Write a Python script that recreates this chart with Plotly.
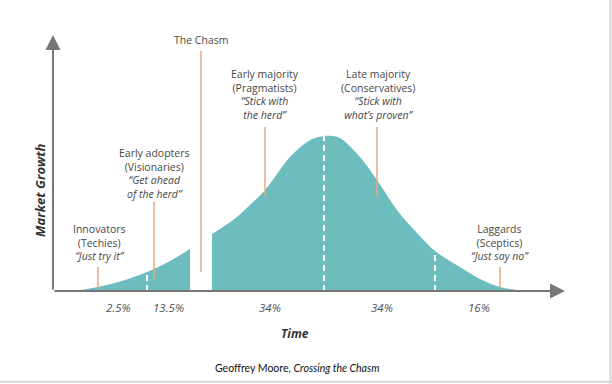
import plotly.graph_objects as go

# ---------------- data ----------------
# adoption curve (time units, growth units)
early_time = [22, 45, 69, 94, 117, 137]
early_growth = [0, 4, 10, 19, 30, 42]
main_time = [159, 180, 197, 212, 237, 254, 262, 271, 279, 287, 307, 324, 344, 364, 382, 407, 427, 447, 474]
main_growth = [57, 71, 86, 101, 134, 149, 153, 155, 155, 153, 134, 111, 81, 58, 40, 24, 12, 4, 0]

# segment boundaries (dashed white lines): time and curve height
boundary_time = [94, 271, 382]
boundary_growth = [19, 155, 40]

segment_titles = ["Innovators", "Early adopters", "The Chasm", "Early majority", "Late majority", "Laggards"]
segment_types = ["(Techies)", "(Visionaries)", "", "(Pragmatists)", "(Conservatives)", "(Sceptics)"]
segment_quotes = ["“Just try it”", "“Get ahead<br>of the herd”", "", "“Stick with<br>the herd”",
                  "“Stick with<br>what’s proven”", "“Just say no”"]

share_labels = ["2.5%", "13.5%", "34%", "34%", "16%"]

x_title = "Time"
y_title = "Market Growth"
caption = "Geoffrey Moore, <i>Crossing the Chasm</i>"

# ---------------- layout helpers ----------------
TEAL = "#6dbdbf"
TAN = "#e9a97e"
AXIS = "#777777"
TXT = "#474747"
FONT = "Open Sans"

# label placement (time, growth) and pointer line (time, top, bottom)
label_pos = [(46, 49), (101, 118), (148, 251), (212, 196.5), (325, 196.5), (447, 49)]
pointer = [(45, 24, 2), (101, 89, 12), (148, 240, 19), (212, 164, 94), (324, 164, 94), (447, 24, 4)]
share_x = [65, 115, 217, 329, 426]

fig = go.Figure()
fig.add_trace(go.Scatter(x=early_time, y=early_growth, mode="lines", fill="tozeroy",
                         line=dict(width=0, shape="spline", color=TEAL), fillcolor=TEAL,
                         hoverinfo="skip", showlegend=False))
fig.add_trace(go.Scatter(x=main_time, y=main_growth, mode="lines", fill="tozeroy",
                         line=dict(width=0, shape="spline", color=TEAL), fillcolor=TEAL,
                         hoverinfo="skip", showlegend=False))

shapes = []
for bt, bg in zip(boundary_time, boundary_growth):
    shapes.append(dict(type="line", x0=bt, x1=bt, y0=0, y1=bg, xref="x", yref="y",
                       line=dict(color="white", width=2, dash="6px,4px")))
for (px, top, bot) in pointer:
    shapes.append(dict(type="line", x0=px, x1=px, y0=bot, y1=top, xref="x", yref="y",
                       line=dict(color=TAN, width=1.5)))
# frame edges
shapes.append(dict(type="line", xref="paper", yref="paper", x0=0.9975, x1=0.9975, y0=0, y1=1,
                   line=dict(color="#d4d4d4", width=2)))
shapes.append(dict(type="line", xref="paper", yref="paper", x0=0, x1=1, y0=0.006, y1=0.006,
                   line=dict(color="#d4d4d4", width=2)))

annotations = []
# axes as arrows
annotations.append(dict(x=512, y=0, ax=0, ay=0, xref="x", yref="y", axref="x", ayref="y",
                        text="", showarrow=True, arrowhead=2, arrowsize=1.5, arrowwidth=2,
                        arrowcolor=AXIS, standoff=0, startstandoff=0))
annotations.append(dict(x=0, y=256, ax=0, ay=0, xref="x", yref="y", axref="x", ayref="y",
                        text="", showarrow=True, arrowhead=2, arrowsize=1.5, arrowwidth=2,
                        arrowcolor=AXIS, standoff=0, startstandoff=0))

for (lx, ly), t, ty, q in zip(label_pos, segment_titles, segment_types, segment_quotes):
    parts = [t]
    if ty:
        parts.append(ty)
    if q:
        parts.append("<i>" + q + "</i>")
    annotations.append(dict(x=lx, y=ly, xref="x", yref="y", text="<br>".join(parts),
                            showarrow=False, align="center", xanchor="center", yanchor="middle",
                            font=dict(family=FONT, size=10.5, color=TXT)))

for sx, s in zip(share_x, share_labels):
    annotations.append(dict(x=sx, y=-16, xref="x", yref="y", text="<i>" + s + "</i>",
                            showarrow=False, font=dict(family=FONT, size=11.5, color="#505050")))

annotations.append(dict(x=242, y=-42, xref="x", yref="y", text="<b><i>" + x_title + "</i></b>",
                        showarrow=False, font=dict(family=FONT, size=12, color="#333333")))
annotations.append(dict(x=-13, y=101, xref="x", yref="y", text="<b><i>" + y_title + "</i></b>",
                        textangle=-90, showarrow=False,
                        font=dict(family=FONT, size=13, color="#333333")))
annotations.append(dict(x=244, y=-77, xref="x", yref="y", text=caption, showarrow=False,
                        font=dict(family="Lato", size=10.5, color="#111111")))

fig.update_layout(
    width=612, height=384,
    margin=dict(l=0, r=0, t=0, b=0),
    paper_bgcolor="white", plot_bgcolor="white",
    xaxis=dict(range=[-53, 559], visible=False, fixedrange=True),
    yaxis=dict(range=[-93, 291], visible=False, fixedrange=True),
    shapes=shapes, annotations=annotations,
    showlegend=False,
)

fig.write_html("out.html", config={"displayModeBar": False},
               post_script="document.body.style.margin='0';document.body.style.overflow='hidden';")
